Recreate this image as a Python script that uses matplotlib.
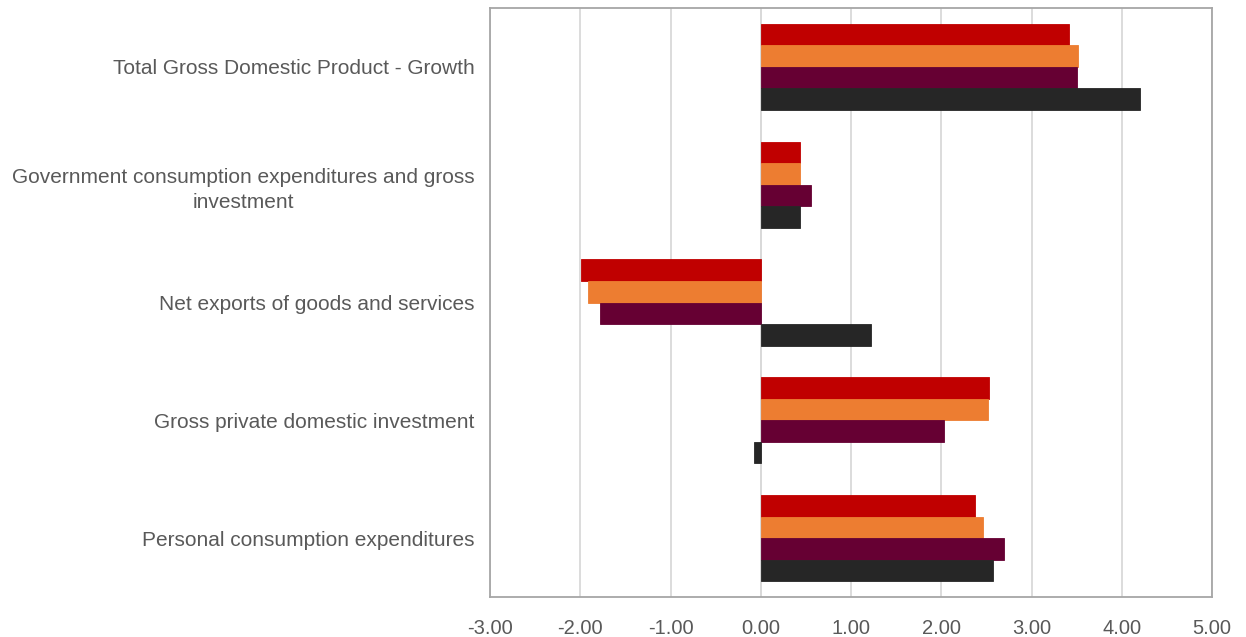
import matplotlib
matplotlib.use("Agg")
import matplotlib.pyplot as plt
import numpy as np

categories = [
    "Total Gross Domestic Product - Growth",
    "Government consumption expenditures and gross\ninvestment",
    "Net exports of goods and services",
    "Gross private domestic investment",
    "Personal consumption expenditures",
]
series_red = [3.41, 0.44, -1.99, 2.53, 2.37]
series_orange = [3.51, 0.44, -1.91, 2.52, 2.46]
series_purple = [3.50, 0.56, -1.78, 2.03, 2.70]
series_black = [4.20, 0.43, 1.22, -0.07, 2.57]
x_ticks = [-3, -2, -1, 0, 1, 2, 3, 4, 5]
x_tick_labels = ["-3.00", "-2.00", "-1.00", "0.00", "1.00", "2.00", "3.00", "4.00", "5.00"]

colors = ["#C00000", "#ED7D31", "#660033", "#262626"]
all_series = [series_red, series_orange, series_purple, series_black]

fig = plt.figure(figsize=(12.46, 6.37), dpi=100)
ax = fig.add_axes([490 / 1246, 1 - 597 / 637, (1212 - 490) / 1246, (597 - 8) / 637])

n = len(categories)
ypos = np.arange(n)[::-1]  # top group first
bh = 0.183
for i, (vals, c) in enumerate(zip(all_series, colors)):
    offset = (1.5 - i) * bh
    ax.barh(ypos + offset, vals, height=bh, color=c, zorder=3,
            edgecolor=c, linewidth=0.6)

ax.set_xlim(-3, 5)
ax.set_ylim(-0.5, n - 0.5)
ax.set_xticks(x_ticks)
ax.set_xticklabels(x_tick_labels)
ax.set_yticks(ypos)
ax.set_yticklabels(categories, ha="right", multialignment="center", linespacing=1.45)

ax.grid(axis="x", color="#D9D9D9", linewidth=1.3, zorder=0)
ax.axvline(0, color="#D9D9D9", linewidth=1.3, zorder=1)
for s in ax.spines.values():
    s.set_color("#A6A6A6")
    s.set_linewidth(1.3)

ax.tick_params(axis="y", length=0, pad=11, labelsize=15, labelcolor="#595959")
ax.tick_params(axis="x", length=0, pad=16, labelsize=14.5, labelcolor="#595959")
for lab in ax.get_xticklabels():
    lab.set_family(["Liberation Sans", "DejaVu Sans"])
for lab in ax.get_yticklabels():
    lab.set_family(["Liberation Sans", "DejaVu Sans"])

fig.savefig("out.png", dpi=100)
